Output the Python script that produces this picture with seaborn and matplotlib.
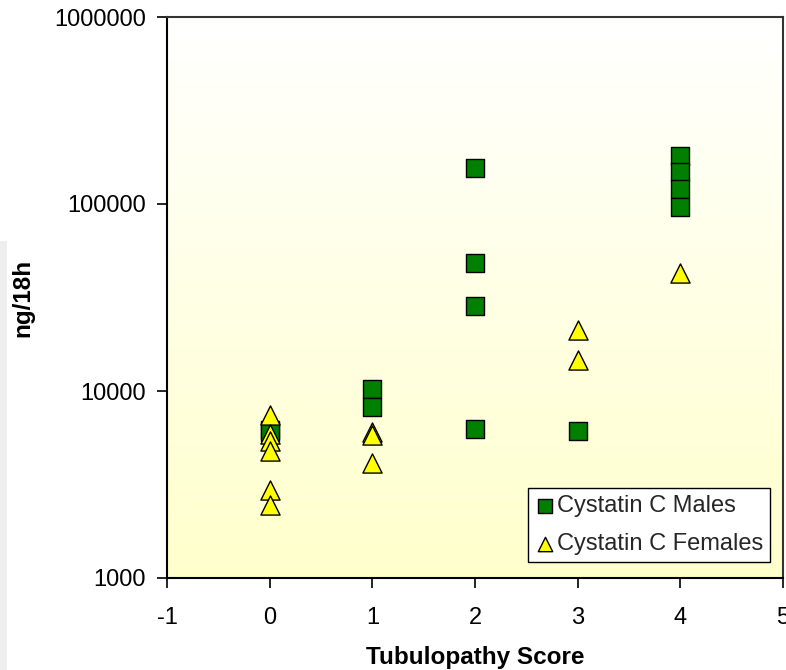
import numpy as np
import pandas as pd
import matplotlib
matplotlib.use("Agg")
import matplotlib.pyplot as plt
import matplotlib.ticker as mticker
from matplotlib.patches import Rectangle
import seaborn as sns

# ---- data ----
male_score = [0, 0, 1, 1, 2, 2, 2, 2, 3, 4, 4, 4, 4]
male_value = [6150, 6000, 10200, 8250, 156000, 48300, 28500, 6260, 6100, 180000, 148000, 120000, 96500]

female_score = [0, 0, 0, 0, 0, 0, 1, 1, 1, 3, 3, 4]
female_value = [7450, 5900, 5400, 4750, 2970, 2460, 6000, 5850, 4100, 21300, 14700, 42500]

series_names = ["Cystatin C Males", "Cystatin C Females"]
x_ticks = [-1, 0, 1, 2, 3, 4, 5]
y_ticks = [1000, 10000, 100000, 1000000]

sns.set_theme(style="white")
plt.rcParams['font.family'] = ['Liberation Sans', 'DejaVu Sans']

W, H = 786, 670
fig = plt.figure(figsize=(W / 100, H / 100), dpi=100)
fig.patch.set_facecolor("white")

left, right, top, bottom = 167, 783, 17, 578
pos = [left / W, 1 - bottom / H, (right - left) / W, (bottom - top) / H]

# gradient background
bg = fig.add_axes(pos, zorder=0)
grad = np.linspace(0, 1, 256).reshape(-1, 1)
c_top = np.array([1.0, 1.0, 1.0])
c_bot = np.array([1.0, 1.0, 0.80])
img = c_top[None, None, :] * (1 - grad[:, :, None]) + c_bot[None, None, :] * grad[:, :, None]
bg.imshow(img, aspect="auto", extent=(0, 1, 0, 1), interpolation="bilinear")
bg.set_axis_off()

ax = fig.add_axes(pos, zorder=1)
ax.set_facecolor("none")

males = pd.DataFrame({"score": male_score, "value": male_value})
females = pd.DataFrame({"score": female_score, "value": female_value})

sns.scatterplot(data=males, x="score", y="value", marker="s", s=175, color="#007F00",
                edgecolor="black", linewidth=1.0, label=series_names[0], ax=ax, zorder=3)
sns.scatterplot(data=females, x="score", y="value", marker="^", s=190, color="#FFFF00",
                edgecolor="black", linewidth=1.0, label=series_names[1], ax=ax, zorder=4)

ax.set_yscale("log")
ax.set_xlim(-1, 5)
ax.set_ylim(1000, 1000000)
ax.set_xticks(x_ticks)
ax.set_xticklabels([str(t) for t in x_ticks])
ax.set_yticks(y_ticks)
ax.set_yticklabels([str(t) for t in y_ticks])
ax.yaxis.set_minor_locator(mticker.NullLocator())
ax.tick_params(axis="both", which="major", direction="out", length=7, width=1.2,
               color="black", labelsize=17, labelcolor="black")
ax.tick_params(axis="x", pad=14, bottom=True)
ax.tick_params(axis="y", pad=8, left=True)

for side in ["left", "bottom"]:
    ax.spines[side].set_color("black")
    ax.spines[side].set_linewidth(1.5)
for side in ["top", "right"]:
    ax.spines[side].set_color("#333333")
    ax.spines[side].set_linewidth(1.5)

ax.set_xlabel("Tubulopathy Score", fontsize=17.5, fontweight="bold", labelpad=12, color="black")
ax.set_ylabel("ng/18h", fontsize=17.5, fontweight="bold", labelpad=14, color="black")

leg = ax.legend(loc="lower right", bbox_to_anchor=(0.979, 0.0285), borderaxespad=0,
                fontsize=17, frameon=True, fancybox=False, framealpha=1,
                edgecolor="black", handletextpad=0.1, handlelength=0.8,
                borderpad=0.3, labelspacing=0.68, markerscale=0.75)
leg.get_frame().set_linewidth(1.0)
leg.get_frame().set_facecolor("white")

# light gray strip on the left edge
fig.patches.append(Rectangle((0, 0), 7 / W, (H - 241) / H, transform=fig.transFigure,
                             facecolor="#eeeeee", edgecolor="none", zorder=-1))

fig.savefig("out.png", dpi=100)
